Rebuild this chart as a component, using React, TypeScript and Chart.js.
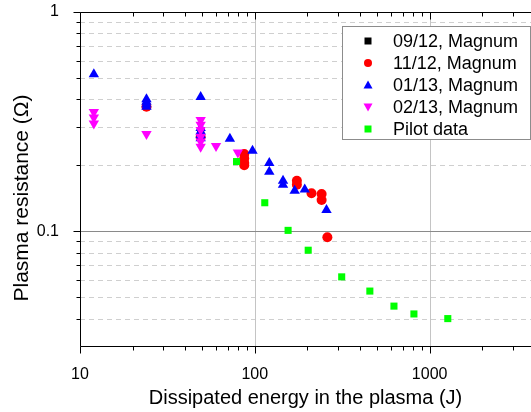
import React, { useEffect, useRef } from 'react';
import { Chart, registerables } from 'chart.js';
Chart.register(...registerables);

// ---- data ----
const seriesNames = ['09/12, Magnum', '11/12, Magnum', '01/13, Magnum', '02/13, Magnum', 'Pilot data'];
const seriesColors = ['#000000', '#ff0000', '#0000ff', '#ff00ff', '#00ff00'];

const blackX = [24, 49, 87];
const blackY = [0.38, 0.28, 0.21];

const redX = [24, 49, 87, 87, 87, 87, 174, 174, 211, 241, 241, 260];
const redY = [0.37, 0.27, 0.225, 0.215, 0.205, 0.2, 0.17, 0.163, 0.149, 0.148, 0.139, 0.094];

const blueX = [12, 24, 24, 24, 24, 49, 49, 49, 49, 49, 72, 97, 121, 121, 145, 145, 169, 193, 257];
const blueY = [0.52, 0.4, 0.39, 0.38, 0.37, 0.41, 0.296, 0.285, 0.275, 0.266, 0.264, 0.233, 0.205, 0.187, 0.17, 0.163, 0.153, 0.155, 0.125];

const magentaX = [12, 12, 12, 24, 49, 49, 49, 49, 49, 49, 60, 80];
const magentaY = [0.35, 0.33, 0.31, 0.278, 0.322, 0.306, 0.29, 0.27, 0.257, 0.243, 0.245, 0.229];

const greenX = [78.6, 114, 155, 202, 314, 455, 625, 813, 1270];
const greenY = [0.208, 0.135, 0.101, 0.082, 0.062, 0.0534, 0.0456, 0.042, 0.04];

const xMajorTicks = [10, 100, 1000];
const xMinorTicks = [20, 30, 40, 50, 60, 70, 80, 90, 200, 300, 400, 500, 600, 700, 800, 900, 2000, 3000];
const yMajorTicks = [0.1, 1];
const yMinorTicks = [0.04, 0.05, 0.06, 0.07, 0.08, 0.09, 0.2, 0.3, 0.4, 0.5, 0.6, 0.7, 0.8, 0.9];

const xTitle = 'Dissipated energy in the plasma (J)';
const yTitle = 'Plasma resistance (\u03A9)';

const FONT = "'Liberation Sans', Arial, sans-serif";

function pts(xs: number[], ys: number[]) {
  return xs.map((x, i) => ({ x, y: ys[i] }));
}

function drawMarker(ctx: CanvasRenderingContext2D, kind: string, x: number, y: number, r: number, color: string) {
  ctx.save();
  ctx.fillStyle = color;
  ctx.beginPath();
  if (kind === 'rect') {
    ctx.rect(x - r, y - r, 2 * r, 2 * r);
  } else if (kind === 'circle') {
    ctx.arc(x, y, r, 0, Math.PI * 2);
  } else if (kind === 'up') {
    ctx.moveTo(x, y - r);
    ctx.lineTo(x + r, y + r * 0.8);
    ctx.lineTo(x - r, y + r * 0.8);
    ctx.closePath();
  } else if (kind === 'down') {
    ctx.moveTo(x, y + r);
    ctx.lineTo(x + r, y - r * 0.8);
    ctx.lineTo(x - r, y - r * 0.8);
    ctx.closePath();
  }
  ctx.fill();
  ctx.restore();
}

const framePlugin = {
  id: 'frame',
  beforeDatasetsDraw(chart: any) {
    const { ctx, chartArea: a, scales } = chart;
    const xs = scales.x, ys = scales.y;
    ctx.save();
    ctx.lineWidth = 1;
    // dashed minor y grid
    ctx.strokeStyle = '#cfcfcf';
    ctx.setLineDash([5, 4]);
    yMinorTicks.forEach((v) => {
      const py = Math.round(ys.getPixelForValue(v)) + 0.5;
      ctx.beginPath();
      ctx.moveTo(a.left, py);
      ctx.lineTo(a.right, py);
      ctx.stroke();
    });
    ctx.setLineDash([]);
    // solid major grid
    ctx.strokeStyle = '#c4c4c4';
    xMajorTicks.slice(1).forEach((v) => {
      const px = Math.round(xs.getPixelForValue(v)) + 0.5;
      ctx.beginPath();
      ctx.moveTo(px, a.top);
      ctx.lineTo(px, a.bottom);
      ctx.stroke();
    });
    ctx.strokeStyle = '#8a8a8a';
    yMajorTicks.slice(0, 1).forEach((v) => {
      const py = Math.round(ys.getPixelForValue(v)) + 0.5;
      ctx.beginPath();
      ctx.moveTo(a.left, py);
      ctx.lineTo(a.right, py);
      ctx.stroke();
    });
    ctx.restore();
  },
  afterDatasetsDraw(chart: any) {
    const { ctx, chartArea: a, scales } = chart;
    const xs = scales.x, ys = scales.y;
    ctx.save();
    ctx.strokeStyle = '#000';
    ctx.lineWidth = 1;
    const L = Math.round(a.left) + 0.5;
    const B = Math.round(a.bottom) + 0.5;
    const T = Math.round(a.top) + 0.5;
    ctx.beginPath();
    ctx.moveTo(L, T);
    ctx.lineTo(L, B);
    ctx.lineTo(a.right, B);
    ctx.moveTo(L, T);
    ctx.lineTo(a.right, T);
    // x ticks
    const xt = (v: number, len: number) => {
      const px = Math.round(xs.getPixelForValue(v)) + 0.5;
      ctx.moveTo(px, B);
      ctx.lineTo(px, B + len);
      ctx.moveTo(px, T);
      ctx.lineTo(px, T + len);
    };
    xMajorTicks.forEach((v) => xt(v, 7));
    xMinorTicks.forEach((v) => xt(v, 4));
    const yt = (v: number, len: number) => {
      const py = Math.round(ys.getPixelForValue(v)) + 0.5;
      ctx.moveTo(L, py);
      ctx.lineTo(L - len, py);
    };
    yMajorTicks.forEach((v) => yt(v, 7));
    yMinorTicks.forEach((v) => yt(v, 4));
    ctx.stroke();

    // titles
    ctx.fillStyle = '#000';
    ctx.font = `20px ${FONT}`;
    ctx.textAlign = 'center';
    ctx.textBaseline = 'middle';
    ctx.fillText(xTitle, (a.left + a.right) / 2, 398);
    ctx.save();
    ctx.translate(22, 198);
    ctx.rotate(-Math.PI / 2);
    ctx.font = `21px ${FONT}`;
    ctx.fillText(yTitle, 0, 0);
    ctx.restore();

    // legend
    const lx = 342.5, ly = 26.5, lw = 188, lh = 113;
    ctx.fillStyle = '#fff';
    ctx.fillRect(lx, ly, lw, lh);
    ctx.strokeStyle = '#8c8c8c';
    ctx.strokeRect(lx, ly, lw, lh);
    const kinds = ['rect', 'circle', 'up', 'down', 'rect'];
    const rs = [3.5, 4, 4.5, 4.5, 3.5];
    ctx.font = `18px ${FONT}`;
    ctx.textAlign = 'left';
    ctx.textBaseline = 'middle';
    seriesNames.forEach((name, i) => {
      const cy = 41 + i * 22;
      drawMarker(ctx, kinds[i], 368, cy, rs[i], seriesColors[i]);
      ctx.fillStyle = '#000';
      ctx.fillText(name, 393, cy + 1);
    });
    ctx.restore();
  },
};

export default function App() {
  const ref = useRef<HTMLCanvasElement | null>(null);
  useEffect(() => {
    document.body.style.margin = '0';
    if (!ref.current) return;
    const mk = (i: number, xs: number[], ys: number[], style: string, r: number, rot: number, order: number) => ({
      label: seriesNames[i],
      data: pts(xs, ys),
      backgroundColor: seriesColors[i],
      borderColor: seriesColors[i],
      borderWidth: 0,
      pointStyle: style,
      pointRadius: r,
      pointRotation: rot,
      order,
    });
    const chart = new Chart(ref.current, {
      type: 'scatter',
      data: {
        datasets: [
          mk(0, blackX, blackY, 'rect', 5, 0, 5),
          mk(1, redX, redY, 'circle', 5, 0, 4),
          mk(2, blueX, blueY, 'triangle', 6, 0, 3),
          mk(3, magentaX, magentaY, 'triangle', 6, 180, 2),
          mk(4, greenX, greenY, 'rect', 5, 0, 1),
        ] as any,
      },
      options: {
        animation: false,
        responsive: false,
        layout: { autoPadding: false, padding: { top: 12, right: 0, left: 0, bottom: 0 } },
        plugins: { legend: { display: false }, tooltip: { enabled: false } },
        scales: {
          x: {
            type: 'logarithmic',
            min: 10,
            max: 3800,
            grid: { display: false },
            border: { display: false },
            afterBuildTicks: (s: any) => {
              s.ticks = xMajorTicks.map((v) => ({ value: v }));
            },
            afterFit: (s: any) => {
              s.height = 66;
              s.paddingLeft = 0;
              s.paddingRight = 0;
            },
            ticks: {
              autoSkip: false,
              maxRotation: 0,
              padding: 11,
              color: '#000',
              font: { family: FONT, size: 16 },
              callback: (v: any) => String(v),
            },
          },
          y: {
            type: 'logarithmic',
            min: 0.03,
            max: 1,
            grid: { display: false },
            border: { display: false },
            afterBuildTicks: (s: any) => {
              s.ticks = yMajorTicks.map((v) => ({ value: v }));
            },
            afterFit: (s: any) => {
              s.width = 80;
              s.paddingTop = 0;
              s.paddingBottom = 0;
            },
            ticks: {
              autoSkip: false,
              padding: 13,
              color: '#000',
              font: { family: FONT, size: 16 },
              callback: (v: any) => String(v),
            },
          },
        },
      },
      plugins: [framePlugin],
    });
    return () => chart.destroy();
  }, []);
  return <canvas ref={ref} width={531} height={412} style={{ display: 'block' }} />;
}
